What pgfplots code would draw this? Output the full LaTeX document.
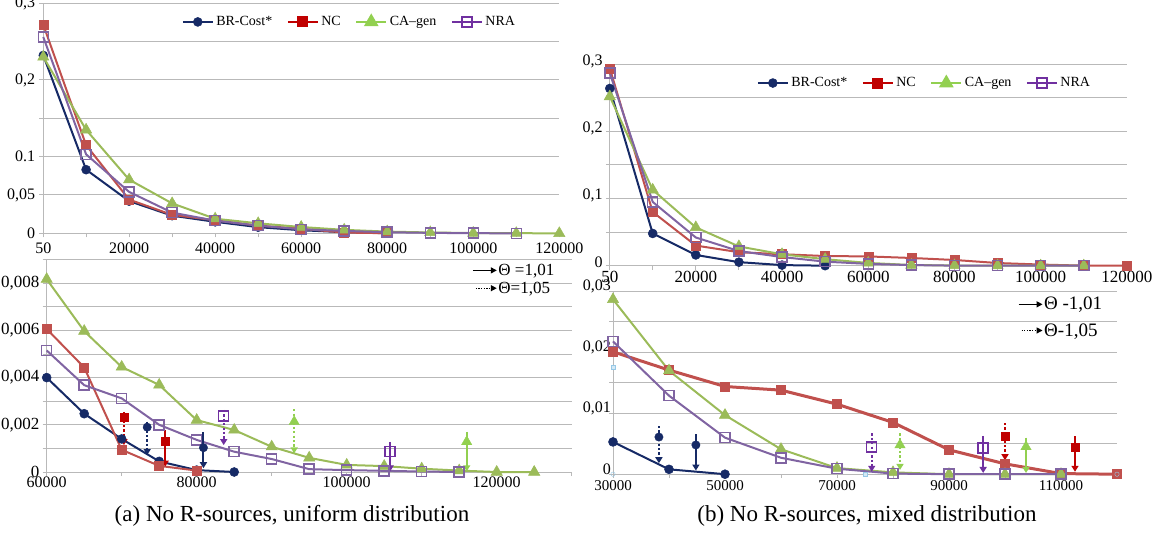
\documentclass[border=0pt]{standalone}
\usepackage{pgfplots}
\pgfplotsset{compat=1.18}
\usepackage{fontspec}
\setmainfont{Liberation Serif}
\usetikzlibrary{arrows.meta}
\definecolor{cBR}{RGB}{22,42,102}
\definecolor{cNC}{RGB}{192,80,77}
\definecolor{cNCd}{RGB}{192,0,0}
\definecolor{cCA}{RGB}{155,187,89}
\definecolor{cCAl}{RGB}{146,208,80}
\definecolor{cNRA}{RGB}{128,100,162}
\definecolor{cNRAd}{RGB}{112,48,160}
\definecolor{cGrid}{RGB}{185,185,185}
\definecolor{cArt}{RGB}{150,200,230}
\pgfplotsset{
  base/.style={
    scale only axis, anchor=south west, clip=false,
    scaled x ticks=false, scaled y ticks=false,
    axis lines=left, axis line style={-, draw=cGrid, line width=1pt},
    ymajorgrids, yminorgrids,
    major grid style={draw=cGrid, line width=1pt},
    minor grid style={draw=cGrid, line width=1pt},
    tick align=outside, major tick length=4pt, minor tick length=4pt,
    tick style={draw=cGrid, line width=1pt},
    xticklabel style={inner sep=0pt, anchor=north},
    yticklabel style={inner sep=0pt, anchor=east},
    /pgf/number format/assume math mode=true,
    legend cell align=left,
  },
  sBR/.style={color=cBR, line width=2pt, mark=*, mark size=4.5pt, mark options={solid, fill=cBR, line width=0.5pt}},
  sNC/.style={color=cNC, line width=2pt, mark=square*, mark size=4.5pt, mark options={solid, fill=cNC, line width=0.5pt}},
  sCA/.style={color=cCA, line width=2pt, mark=triangle*, mark size=6.5pt, mark options={solid, fill=cCA, line width=0.5pt}},
  sNRA/.style={color=cNRA, line width=2pt, mark=square, mark size=5pt, mark options={solid, fill=white, line width=1.5pt}},
  arr/.style={line width=2pt, -{Triangle[width=7pt,length=6pt]}},
  arrd/.style={arr, dash pattern=on 2.2pt off 2.2pt},
  seriesleg/.style={
    legend columns=4,
    legend image code/.code={\draw[mark repeat=2,mark phase=2,##1] plot coordinates {(0pt,0pt)(15pt,0pt)(30pt,0pt)};},
  },
}
\begin{document}
\begin{tikzpicture}
\useasboundingbox (0pt,0pt) rectangle (1157pt,-534pt);

% ---------------- (a) top ----------------
\begin{axis}[base, seriesleg, at={(43.3pt,-233.3pt)}, width=516pt, height=230pt,
  xmin=50, xmax=120000, ymin=0, ymax=0.3,
  xtick={50,20000,40000,60000,80000,100000,120000},
  xticklabels={50,20000,40000,60000,80000,100000,120000},
  minor xtick={10000,30000,50000,70000,90000,110000},
  ytick={0,0.05,0.1,0.2,0.3}, yticklabels={0,{0,05},{0.1},{0,2},{0,3}},
  minor ytick={0.15,0.25},
  ticklabel style={font=\fontsize{16}{16}\selectfont},
  xticklabel style={yshift=-5pt}, yticklabel style={xshift=-4pt},
  legend style={draw=none, fill=none, at={(0.268,0.919)}, anchor=west, inner sep=0pt,
    font=\fontsize{14}{14}\selectfont, nodes={inner sep=2.5pt},
    /tikz/every even column/.append style={column sep=12pt}},
]
\addlegendimage{sBR}\addlegendentry{BR-Cost*}
\addlegendimage{sNC, color=cNCd, mark options={solid, fill=cNCd}}\addlegendentry{NC}
\addlegendimage{sCA, color=cCAl, mark options={solid, fill=cCAl}}\addlegendentry{CA--gen}
\addlegendimage{sNRA, color=cNRAd}\addlegendentry{NRA}
\addplot[sBR] coordinates {(50,0.232)(10000,0.083)(20000,0.042)(30000,0.023)(40000,0.015)(50000,0.008)(60000,0.004)(70000,0.0014)(80000,0.0001)};
\addplot[sNC] coordinates {(50,0.272)(10000,0.115)(20000,0.044)(30000,0.024)(40000,0.017)(50000,0.010)(60000,0.006)(70000,0.00095)(80000,0.0001)};
\addplot[sCA] coordinates {(50,0.230)(10000,0.135)(20000,0.070)(30000,0.039)(40000,0.019)(50000,0.013)(60000,0.0082)(70000,0.0045)(80000,0.0022)(90000,0.00106)(100000,0.00035)(110000,0.0001)(120000,0)};
\addplot[sNRA] coordinates {(50,0.256)(10000,0.103)(20000,0.054)(30000,0.027)(40000,0.0165)(50000,0.010)(60000,0.0052)(70000,0.0031)(80000,0.0014)(90000,0.00057)(100000,0.0001)(110000,0)};
\end{axis}

% ---------------- (a) bottom ----------------
\begin{axis}[base, at={(46.7pt,-472pt)}, width=525pt, height=212.4pt,
  xmin=60000, xmax=130000, ymin=0, ymax=0.009,
  xtick={60000,80000,100000,120000}, xticklabels={60000,80000,100000,120000},
  minor xtick={70000,90000,110000,130000},
  ytick={0,0.002,0.004,0.006,0.008}, yticklabels={0,{0,002},{0,004},{0,006},{0,008}},
  minor ytick={0.001,0.003,0.005,0.007,0.009},
  ticklabel style={font=\fontsize{16}{16}\selectfont},
  xticklabel style={yshift=-1pt}, yticklabel style={font=\fontsize{17}{17}\selectfont, xshift=-3pt},
  legend style={draw=none, fill=none, at={(0.810,0.985)}, anchor=north west, inner sep=0pt,
    font=\fontsize{17}{17}\selectfont, nodes={inner sep=1pt}, row sep=3pt},
]
\addlegendimage{legend image code/.code={\draw[black,line width=1.3pt,-{Triangle[width=6pt,length=6pt]}] (0pt,0pt)--(24pt,0pt);}}
\addlegendentry{Θ =1,01}
\addlegendimage{legend image code/.code={\draw[black,line width=1.3pt,dash pattern=on 1.3pt off 1.3pt,-{Triangle[width=6pt,length=6pt]}] (3pt,0pt)--(24pt,0pt);}}
\addlegendentry{Θ=1,05}
\addplot[sBR] coordinates {(60000,0.0040)(65000,0.00247)(70000,0.0014)(75000,0.00045)(80000,0.00008)(85000,0)};
\addplot[sNC] coordinates {(60000,0.00606)(65000,0.00443)(70000,0.00094)(75000,0.00026)(80000,0.00006)};
\addplot[sCA] coordinates {(60000,0.00817)(65000,0.00597)(70000,0.00445)(75000,0.00369)(80000,0.0022)(85000,0.00178)(90000,0.00107)(95000,0.0006)(100000,0.0003)(105000,0.00025)(110000,0.00014)(115000,0.00006)(120000,0)(125000,0)};
\addplot[sNRA] coordinates {(60000,0.00515)(65000,0.00368)(70000,0.00312)(75000,0.0020)(80000,0.00136)(85000,0.00086)(90000,0.00055)(95000,0.00012)(100000,0.00008)(105000,0.00005)(110000,0.00002)(115000,0)};
% annotations
\addplot[arrd, color=cNCd] coordinates {(70300,0.00255)(70300,0.00114)};
\addplot[only marks, mark=square*, mark size=4pt, color=cNCd] coordinates {(70300,0.00232)};
\addplot[arrd, color=cBR] coordinates {(73400,0.00213)(73400,0.00072)};
\addplot[only marks, mark=*, mark size=4.2pt, color=cBR] coordinates {(73400,0.0019)};
\addplot[arr, color=cNCd] coordinates {(75800,0.00178)(75800,0.00023)};
\addplot[only marks, mark=square*, mark size=4pt, color=cNCd] coordinates {(75800,0.00131)};
\addplot[arr, color=cBR] coordinates {(80900,0.0017)(80900,0.00016)};
\addplot[only marks, mark=*, mark size=4.2pt, color=cBR] coordinates {(80900,0.00103)};
\addplot[arrd, color=cNRAd] coordinates {(83600,0.00263)(83600,0.00114)};
\addplot[only marks, mark=square, mark size=5pt, color=cNRAd, mark options={fill=white, line width=1.5pt}] coordinates {(83600,0.00237)};
\addplot[arrd, color=cCAl] coordinates {(93000,0.00266)(93000,0.00079)};
\addplot[only marks, mark=triangle*, mark size=6pt, color=cCAl] coordinates {(93000,0.00213)};
\addplot[arr, color=cNRAd] coordinates {(105800,0.00128)(105800,0.00003)};
\addplot[only marks, mark=square, mark size=5pt, color=cNRAd, mark options={fill=white, line width=1.5pt}] coordinates {(105800,0.00086)};
\addplot[arr, color=cCAl] coordinates {(116000,0.0017)(116000,0.00003)};
\addplot[only marks, mark=triangle*, mark size=6pt, color=cCAl] coordinates {(116000,0.00128)};
\end{axis}

% ---------------- (b) top ----------------
\begin{axis}[base, seriesleg, at={(609.8pt,-265.7pt)}, width=517.1pt, height=201.4pt,
  xmin=50, xmax=120000, ymin=0, ymax=0.3,
  xtick={50,20000,40000,60000,80000,100000,120000},
  xticklabels={50,20000,40000,60000,80000,100000,120000},
  minor xtick={10000,30000,50000,70000,90000,110000},
  ytick={0,0.1,0.2,0.3}, yticklabels={0,{0,1},{0,2},{0,3}},
  minor ytick={0.05,0.15,0.25},
  xticklabel style={font=\fontsize{17}{17}\selectfont, yshift=-1pt},
  yticklabel style={font=\fontsize{16}{16}\selectfont, xshift=-3pt, yshift=3pt},
  legend style={draw=none, fill=none, at={(0.284,0.907)}, anchor=west, inner sep=0pt,
    font=\fontsize{14}{14}\selectfont, nodes={inner sep=2.5pt},
    /tikz/every even column/.append style={column sep=12pt}},
]
\addlegendimage{sBR}\addlegendentry{BR-Cost*}
\addlegendimage{sNC, color=cNCd, mark options={solid, fill=cNCd}}\addlegendentry{NC}
\addlegendimage{sCA, color=cCAl, mark options={solid, fill=cCAl}}\addlegendentry{CA--gen}
\addlegendimage{sNRA, color=cNRAd}\addlegendentry{NRA}
\addplot[sBR] coordinates {(50,0.264)(10000,0.048)(20000,0.016)(30000,0.0053)(40000,0.0009)(50000,0)};
\addplot[sNC] coordinates {(50,0.294)(10000,0.080)(20000,0.030)(30000,0.0201)(40000,0.0171)(50000,0.0144)(60000,0.0138)(70000,0.0115)(80000,0.0085)(90000,0.0040)(100000,0.0017)(110000,0.0001)(120000,0)};
\addplot[sCA] coordinates {(50,0.252)(10000,0.113)(20000,0.057)(30000,0.0287)(40000,0.017)(50000,0.0097)(60000,0.0041)(70000,0.0010)(80000,0.0003)(90000,0)(100000,0)(110000,0)};
\addplot[sNRA] coordinates {(50,0.287)(10000,0.095)(20000,0.042)(30000,0.0218)(40000,0.0129)(50000,0.0060)(60000,0.0027)(70000,0.0009)(80000,0.0001)(90000,0)(100000,0)(110000,0)};
\end{axis}

% ---------------- (b) bottom ----------------
\begin{axis}[base, at={(613pt,-474.2pt)}, width=504pt, height=182.7pt,
  xmin=30000, xmax=120000, ymin=0, ymax=0.03,
  xtick={30000,50000,70000,90000,110000}, xticklabels={30000,50000,70000,90000,110000},
  minor xtick={40000,60000,80000,100000,120000},
  ytick={0,0.01,0.02,0.03}, yticklabels={0,{0,01},{0,02},{0,03}},
  minor ytick={0.005,0.015,0.025},
  xticklabel style={font=\fontsize{15}{15}\selectfont, yshift=-2pt},
  yticklabel style={font=\fontsize{16}{16}\selectfont, xshift=2pt, yshift=5pt},
  legend style={draw=none, fill=none, at={(0.803,0.975)}, anchor=north west, inner sep=0pt,
    font=\fontsize{19}{19}\selectfont, nodes={inner sep=1pt}, row sep=10pt},
]
\addlegendimage{legend image code/.code={\draw[black,line width=1.3pt,-{Triangle[width=6pt,length=6pt]}] (0pt,0pt)--(24pt,0pt);}}
\addlegendentry{Θ -1,01}
\addlegendimage{legend image code/.code={\draw[black,line width=1.3pt,dash pattern=on 1.3pt off 1.3pt,-{Triangle[width=6pt,length=6pt]}] (3pt,0pt)--(24pt,0pt);}}
\addlegendentry{Θ-1,05}
\addplot[sBR] coordinates {(30000,0.0053)(40000,0.0008)(50000,0)};
\addplot[sNC, line width=3pt] coordinates {(30000,0.0201)(40000,0.0171)(50000,0.0144)(60000,0.0138)(70000,0.0115)(80000,0.0085)(90000,0.0040)(100000,0.0017)(110000,0.0001)(120000,0)};
\addplot[sCA] coordinates {(30000,0.0287)(40000,0.017)(50000,0.0097)(60000,0.0041)(70000,0.0010)(80000,0.0003)(90000,0)(100000,0)(110000,0)};
\addplot[sNRA] coordinates {(30000,0.0218)(40000,0.0129)(50000,0.0060)(60000,0.0027)(70000,0.0009)(80000,0.0001)(90000,0)(100000,0)(110000,0)};
\addplot[only marks, mark=square*, mark size=2.2pt, color=cArt, mark options={fill=cArt!40}] coordinates {(30000,0.0176)(75000,0)};
\addplot[only marks, mark=o, mark size=2.2pt, color=cArt, mark options={fill=white}] coordinates {(30000,0)(120000,0)};
% annotations
\addplot[arrd, color=cBR] coordinates {(38200,0.0079)(38200,0.0018)};
\addplot[only marks, mark=*, mark size=4.2pt, color=cBR] coordinates {(38200,0.0061)};
\addplot[arr, color=cBR] coordinates {(44800,0.0066)(44800,0.0006)};
\addplot[only marks, mark=*, mark size=4.2pt, color=cBR] coordinates {(44800,0.0048)};
\addplot[arrd, color=cNRAd] coordinates {(76200,0.0067)(76200,0.0004)};
\addplot[only marks, mark=square, mark size=5pt, color=cNRAd, mark options={fill=white, line width=1.5pt}] coordinates {(76200,0.0045)};
\addplot[arrd, color=cCAl] coordinates {(81250,0.0067)(81250,0.0007)};
\addplot[only marks, mark=triangle*, mark size=6pt, color=cCAl] coordinates {(81250,0.0048)};
\addplot[arr, color=cNRAd] coordinates {(96100,0.0063)(96100,0.0002)};
\addplot[only marks, mark=square, mark size=5pt, color=cNRAd, mark options={fill=white, line width=1.5pt}] coordinates {(96100,0.0043)};
\addplot[arrd, color=cNCd] coordinates {(100000,0.0084)(100000,0.0023)};
\addplot[only marks, mark=square*, mark size=4pt, color=cNCd] coordinates {(100000,0.0063)};
\addplot[arr, color=cCAl] coordinates {(103750,0.0060)(103750,0.0002)};
\addplot[only marks, mark=triangle*, mark size=6pt, color=cCAl] coordinates {(103750,0.0045)};
\addplot[arr, color=cNCd] coordinates {(112500,0.0062)(112500,0.0004)};
\addplot[only marks, mark=square*, mark size=4pt, color=cNCd] coordinates {(112500,0.0045)};
\end{axis}

\node[font=\fontsize{23}{23}\selectfont] at (292pt,-516pt) {(a) No R-sources, uniform distribution};
\node[font=\fontsize{23}{23}\selectfont] at (867pt,-516pt) {(b) No R-sources, mixed distribution};
\end{tikzpicture}
\end{document}
